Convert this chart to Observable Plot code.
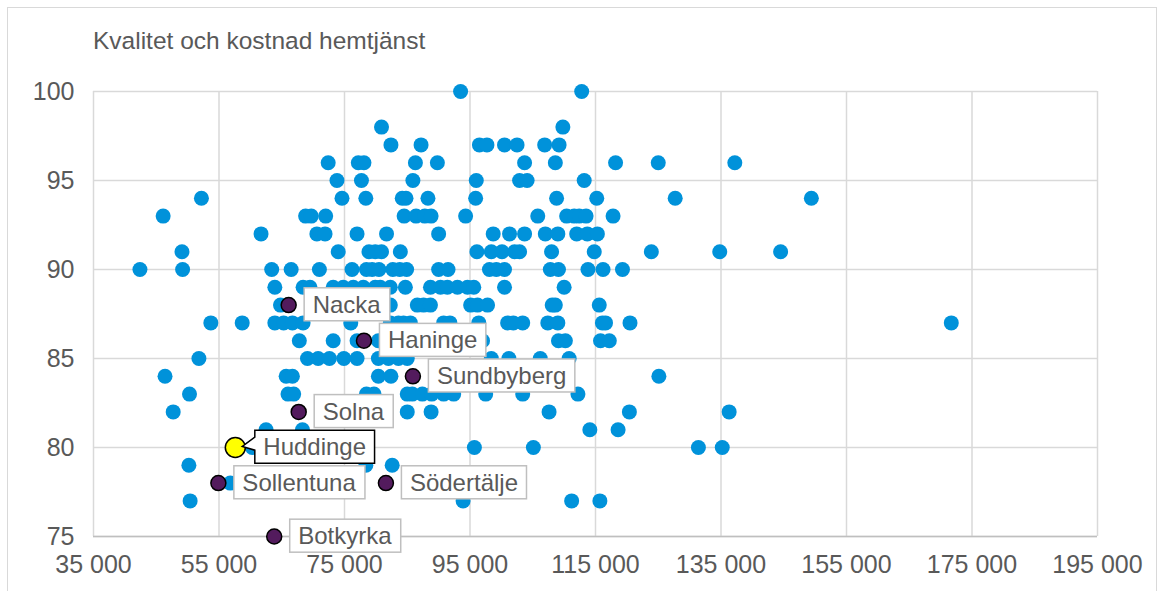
<!DOCTYPE html>
<html>
<head>
<meta charset="utf-8">
<script src="https://cdn.jsdelivr.net/npm/d3@7"></script>
<script src="https://cdn.jsdelivr.net/npm/@observablehq/plot@0.6"></script>
<style>
  html, body { margin: 0; padding: 0; background: white; }
  #wrap { position: relative; width: 1166px; height: 591px; overflow: hidden; font-family: "Liberation Sans", Arial, sans-serif; }
  #frame { position: absolute; left: 7px; top: 7px; width: 1150px; height: 640px; border: 1.5px solid #d9d9d9; box-sizing: border-box; }
  #title { position: absolute; left: 93px; top: 27px; font-size: 24.5px; color: #595959; white-space: nowrap; }
  #chart { position: absolute; left: 0; top: 60px; }
</style>
</head>
<body>
<div id="wrap">
  <div id="frame"></div>
  <div id="title">Kvalitet och kostnad hemtjänst</div>
  <div id="chart"></div>
</div>
<script>
// Cost (thousand SEK) of each municipality, grouped by quality score
const q100 = [93.5, 112.8];
const q98 = [80.9, 109.8];
const q97 = [82.4, 87.2, 96.5, 97.7, 100.5, 102.5, 106.9, 109.2];
const q96 = [72.4, 77.2, 78.1, 86.3, 89.8, 103.7, 108.6, 118.2, 125.0, 137.2];
const q95 = [73.8, 77.7, 85.9, 96.0, 102.9, 104.1, 113.2];
const q94 = [52.2, 74.6, 78.4, 84.2, 84.8, 88.3, 95.9, 108.8, 115.2, 127.7, 149.4];
const q93 = [46.1, 68.8, 69.7, 72.0, 84.5, 86.4, 87.8, 88.8, 94.3, 105.8, 110.4, 111.6, 112.4, 113.5, 117.8];
const q92 = [61.7, 70.6, 71.9, 77.0, 81.7, 90.0, 98.7, 101.3, 103.7, 107.0, 109.0, 112.0, 113.7, 115.3];
const q91 = [49.1, 74.0, 78.9, 79.9, 80.9, 83.9, 96.1, 98.4, 100.1, 102.1, 102.9, 108.0, 114.8, 123.9, 134.8, 144.5];
const q90 = [42.4, 49.2, 63.4, 66.5, 71.0, 76.2, 78.5, 79.4, 80.5, 82.7, 83.8, 84.9, 90.0, 91.5, 98.1, 99.2, 100.5, 107.8, 109.1, 113.8, 116.2, 119.3];
const q89 = [63.9, 68.4, 69.5, 73.2, 74.8, 76.4, 78.0, 79.9, 80.7, 82.3, 84.7, 88.7, 90.3, 91.4, 93.0, 94.6, 95.6, 100.5, 110.0];
const q88 = [64.8, 72.0, 76.0, 82.3, 86.6, 87.6, 88.7, 95.1, 96.2, 97.8, 108.1, 108.6, 115.6];
const q87 = [53.7, 58.7, 63.9, 65.3, 66.7, 68.4, 76.0, 82.3, 83.6, 84.4, 85.5, 90.8, 91.8, 96.4, 101.0, 101.9, 103.4, 107.4, 109.0, 116.1, 116.6, 120.5, 171.7];
const q86 = [67.8, 73.2, 77.0, 80.4, 86.0, 90.0, 97.0, 109.1, 110.2, 115.8, 117.2];
const q85 = [51.8, 69.1, 70.8, 72.6, 74.9, 77.0, 80.4, 82.0, 83.6, 85.0, 98.4, 101.2, 106.2, 110.8];
const q84 = [46.4, 65.7, 66.7, 80.4, 82.4, 125.1];
const q83 = [50.3, 66.0, 66.9, 78.5, 79.7, 85.0, 85.8, 87.4, 88.9, 90.8, 92.4, 97.5, 103.4, 112.2];
const q82 = [47.7, 85.0, 88.8, 107.6, 120.4, 136.3];
const q81 = [62.5, 68.3, 114.1, 118.6];
const q80 = [60.3, 95.7, 105.1, 131.4, 135.2];
const q79 = [50.2, 78.4, 82.6];
const q78 = [56.8];
const q77 = [50.4, 93.9, 111.2, 115.7];

const qualityLevels = [100, 98, 97, 96, 95, 94, 93, 92, 91, 90, 89, 88, 87, 86, 85, 84, 83, 82, 81, 80, 79, 78, 77];
const costsByLevel = [q100, q98, q97, q96, q95, q94, q93, q92, q91, q90, q89, q88, q87, q86, q85, q84, q83, q82, q81, q80, q79, q78, q77];

// Highlighted municipalities
const labelNames = ["Nacka", "Haninge", "Sundbyberg", "Solna", "Sollentuna", "Södertälje", "Botkyrka"];
const labelCost = [66.1, 78.1, 85.9, 67.7, 54.9, 81.6, 63.8];
const labelQuality = [88, 86, 84, 82, 78, 78, 75];
const focusName = ["Huddinge"];
const focusCost = [57.6];
const focusQuality = [80];

// Axes
const xTicks = [35000, 55000, 75000, 95000, 115000, 135000, 155000, 175000, 195000];
const yTicks = [75, 80, 85, 90, 95, 100];

const blue = qualityLevels.flatMap((q, i) => costsByLevel[i].map(c => ({cost: c * 1000, quality: q})));
const labelled = labelNames.map((n, i) => ({name: n, cost: labelCost[i] * 1000, quality: labelQuality[i]}));
const focus = focusName.map((n, i) => ({name: n, cost: focusCost[i] * 1000, quality: focusQuality[i]}));

const fmt = d => d3.format(",")(d).replace(/,/g, " ");
const grey = "#595959";

const chart = Plot.plot({
  width: 1166,
  height: 531,
  marginLeft: 93,
  marginRight: 69,
  marginTop: 31,
  marginBottom: 55,
  style: {fontFamily: "'Liberation Sans', Arial, sans-serif", color: grey, background: "transparent", overflow: "visible"},
  x: {domain: [35000, 195000]},
  y: {domain: [75, 100]},
  marks: [
    Plot.gridX(xTicks, {stroke: "#d9d9d9", strokeOpacity: 1, strokeWidth: 1.5}),
    Plot.gridY(yTicks, {stroke: "#d9d9d9", strokeOpacity: 1, strokeWidth: 1.5}),
    Plot.ruleY([75], {stroke: "#bfbfbf", strokeWidth: 1.5}),
    Plot.axisX(xTicks, {tickSize: 0, tickPadding: 19, tickFormat: fmt, fontSize: 25, fill: grey, label: null}),
    Plot.axisY(yTicks, {tickSize: 0, tickPadding: 19, fontSize: 25, fill: grey, label: null}),
    Plot.dot(blue, {x: "cost", y: "quality", r: 7.5, fill: "#0092da"}),
    Plot.dot(labelled, {x: "cost", y: "quality", r: 7.5, fill: "#531b5d", stroke: "black", strokeWidth: 1.5}),
    Plot.dot(focus, {x: "cost", y: "quality", r: 10, fill: "#ffff00", stroke: "black", strokeWidth: 1.5}),
    Plot.text(labelled, {x: "cost", y: "quality", text: "name", textAnchor: "start", dx: 24, fontSize: 24, fill: grey}),
    Plot.text(focus, {x: "cost", y: "quality", text: "name", textAnchor: "start", dx: 28, fontSize: 24, fill: grey})
  ]
});

document.getElementById("chart").append(chart);

// Boxes behind the labels, sized from the rendered text
const padX = 8.5, padY = 3;
const ns = "http://www.w3.org/2000/svg";
const textGroups = chart.querySelectorAll('g[aria-label="text"]');
const lg = textGroups[0], fg = textGroups[1];
function placeShape(t, shape) {
  if (t.getAttribute("transform")) shape.setAttribute("transform", t.getAttribute("transform"));
  shape.setAttribute("fill", "white");
  shape.setAttribute("stroke-width", "1.5");
  t.parentNode.insertBefore(shape, t);
}
if (lg) lg.querySelectorAll("text").forEach(t => {
  const b = t.getBBox();
  const r = document.createElementNS(ns, "rect");
  r.setAttribute("x", b.x - padX);
  r.setAttribute("y", b.y - padY);
  r.setAttribute("width", b.width + 2 * padX);
  r.setAttribute("height", b.height + 2 * padY);
  r.setAttribute("stroke", "#bfbfbf");
  placeShape(t, r);
});
if (fg) fg.querySelectorAll("text").forEach(t => {
  const b = t.getBBox();
  const L = b.x - padX, T = b.y - padY, R = b.x + b.width + padX, B = b.y + b.height + padY;
  const tipX = -28 + 7, tipY = -1;
  const p = document.createElementNS(ns, "path");
  p.setAttribute("d", `M${L},${T} L${R},${T} L${R},${B} L${L},${B} L${L},${T + 20} L${tipX},${tipY} L${L},${T + 7} Z`);
  p.setAttribute("stroke", "black");
  placeShape(t, p);
});
</script>
</body>
</html>
